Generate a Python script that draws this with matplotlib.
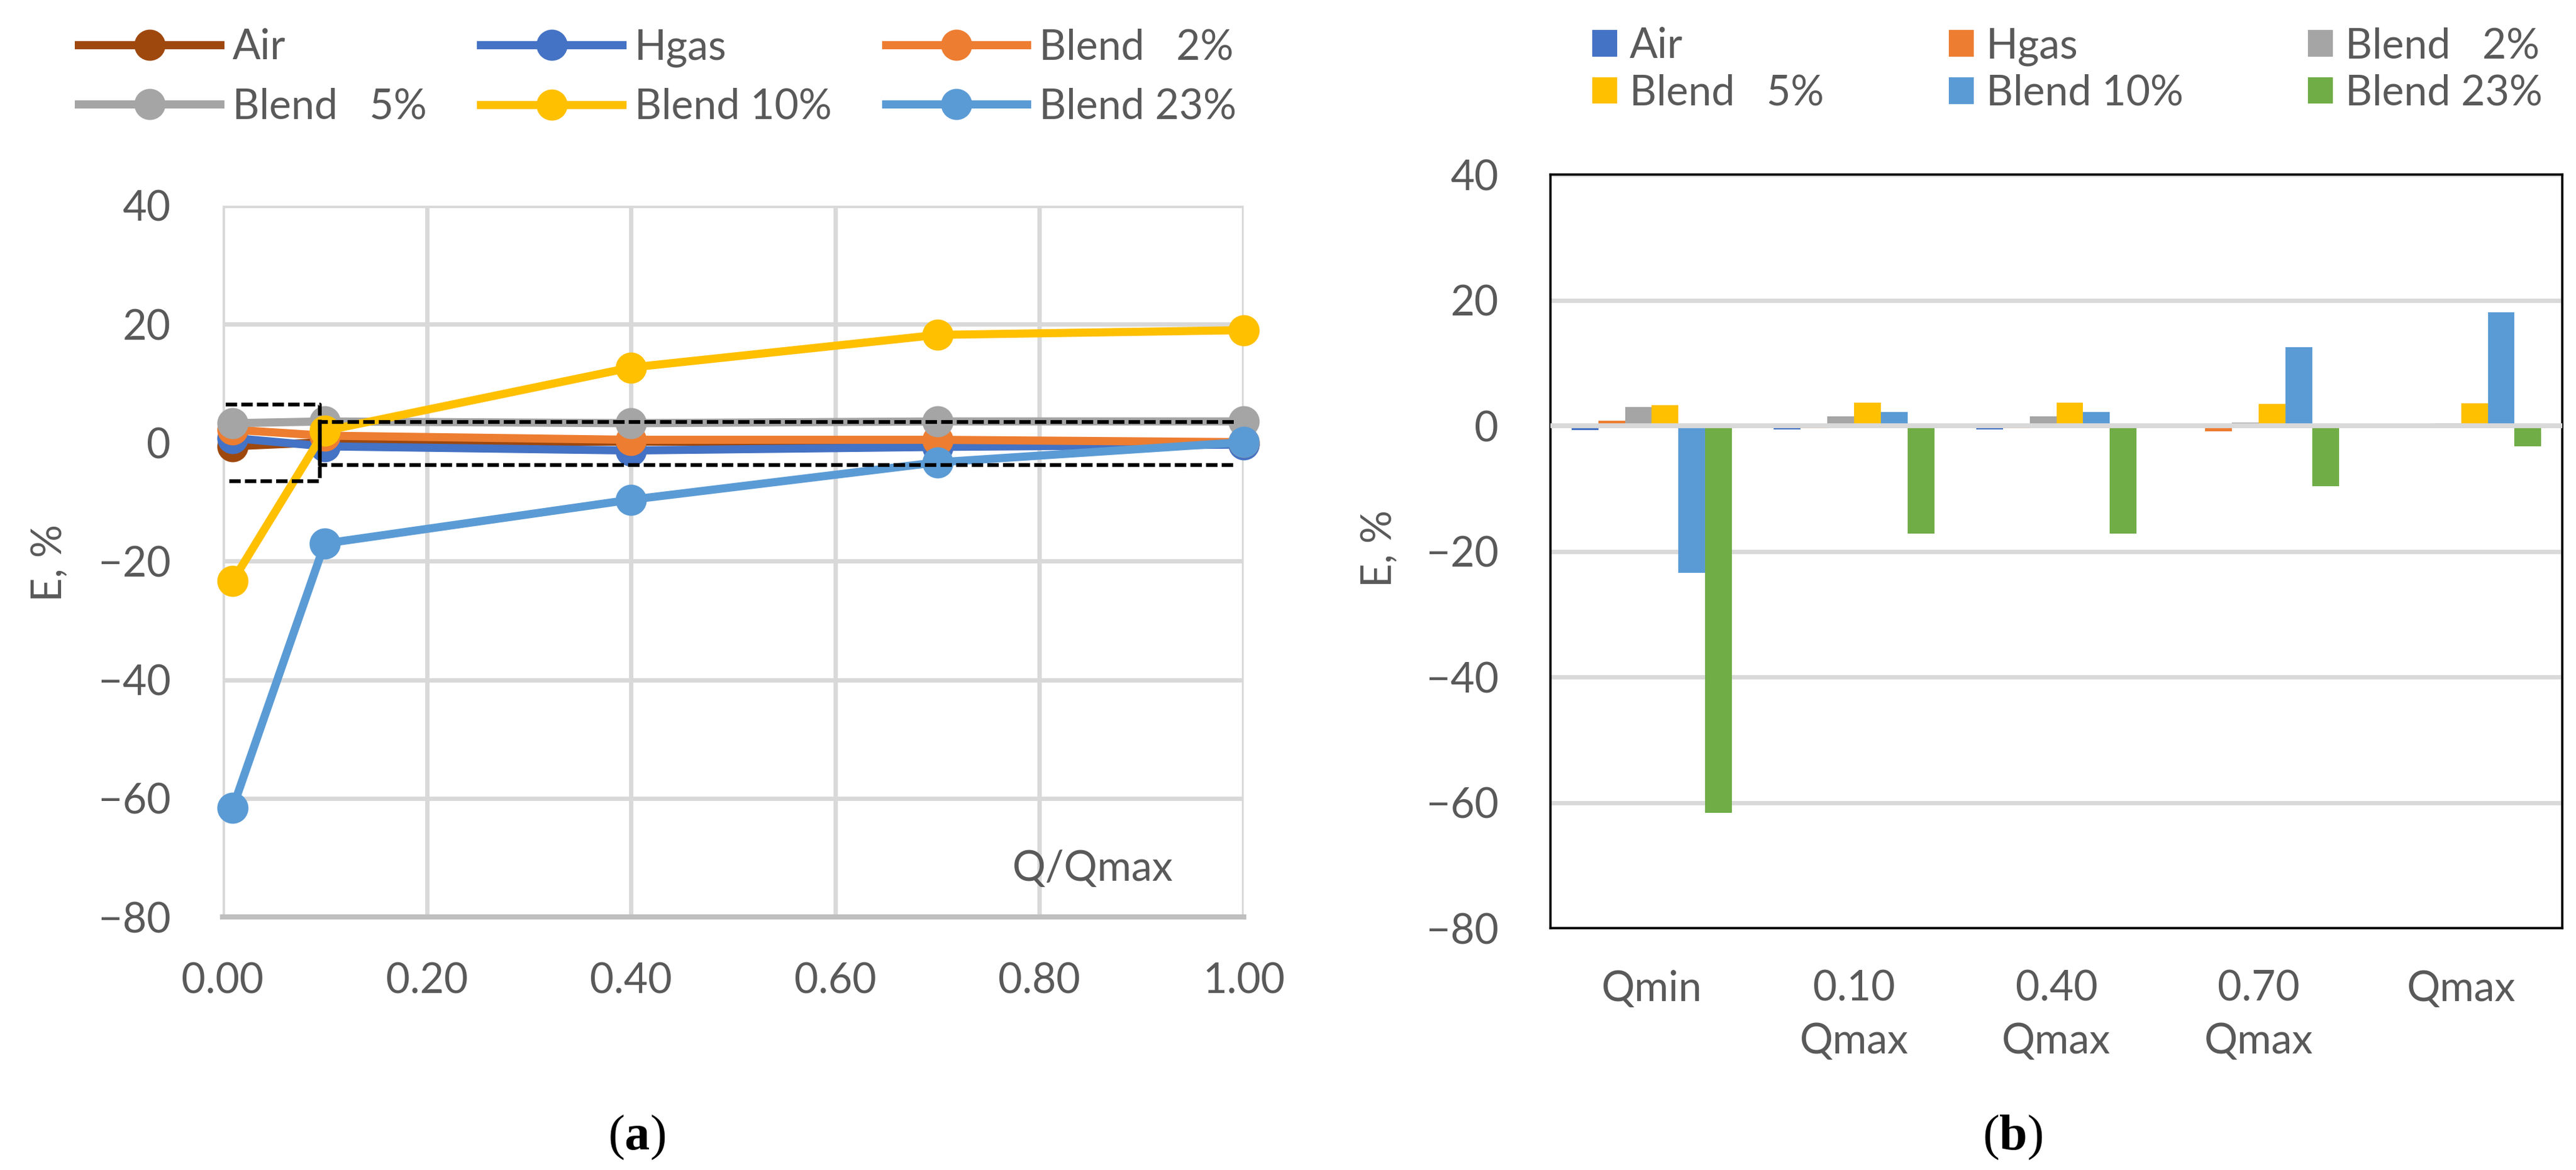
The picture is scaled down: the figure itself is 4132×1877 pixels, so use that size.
import matplotlib
matplotlib.use("Agg")
import matplotlib.pyplot as plt
import numpy as np

plt.rcParams['font.family'] = ['Lato', 'DejaVu Sans']
plt.rcParams['mathtext.fontset'] = 'custom'
plt.rcParams['mathtext.rm'] = 'Liberation Serif'
plt.rcParams['mathtext.bf'] = 'Liberation Serif:bold'

# ---- data, panel (a): error vs Q/Qmax
series_names = ["Air", "Hgas", "Blend   2%", "Blend   5%", "Blend 10%", "Blend 23%"]
x_line = [0.01, 0.1, 0.4, 0.7, 1.0]
air_line = [-0.6, 0.1, 0.2, 0.1, -0.2]
hgas_line = [0.8, -0.6, -1.3, -0.7, -0.3]
blend2_line = [2.2, 1.2, 0.5, 0.5, 0.1]
blend5_line = [3.3, 3.6, 3.3, 3.6, 3.6]
blend10_line = [-23.3, 2.0, 12.7, 18.2, 19.0]
blend23_line = [-61.6, -17.0, -9.6, -3.3, 0.1]

# dashed zoom boxes in panel (a): (x0, y0, x1, y1, open side)
zoom_boxes = [(0.003, -6.5, 0.095, 6.4, "left"), (0.095, -3.7, 0.99, 3.5, "right")]

# ---- data, panel (b): bars per flow point
categories = ["Qmin", "0.10\nQmax", "0.40\nQmax", "0.70\nQmax", "Qmax"]
air_bar = [-0.66, -0.56, -0.56, 0.0, 0.0]
hgas_bar = [0.83, -0.43, -0.43, -0.86, 0.0]
blend2_bar = [3.0, 1.5, 1.5, 0.5, 0.4]
blend5_bar = [3.3, 3.7, 3.7, 3.5, 3.6]
blend10_bar = [-23.4, 2.2, 2.2, 12.5, 18.1]
blend23_bar = [-61.6, -17.2, -17.2, -9.6, -3.3]

line_colors = ["#9E480E", "#4472C4", "#ED7D31", "#A5A5A5", "#FFC000", "#5B9BD5"]
bar_colors = ["#4472C4", "#ED7D31", "#A5A5A5", "#FFC000", "#5B9BD5", "#70AD47"]
txt = "#595959"
grid_c = "#D9D9D9"
fs = 24

fig = plt.figure(figsize=(20.66, 9.385), dpi=200)

# ================= panel (a)
ax1 = fig.add_axes([0.0864, 0.2163, 0.3964, 0.6079])
lines = [air_line, hgas_line, blend2_line, blend5_line, blend10_line, blend23_line]
handles = []
for name, ys, c in zip(series_names, lines, line_colors):
    h, = ax1.plot(x_line, ys, color=c, lw=4.7, marker="o", markersize=17,
                  label=name, clip_on=False, zorder=3)
    handles.append(h)

# boxes drawn as open dashed outlines
for (x0, y0, x1, y1, open_side) in zoom_boxes:
    if open_side == "left":
        bx, by = [x0, x1, x1, x0], [y1, y1, y0, y0]
    else:
        bx, by = [x1, x0, x0, x1], [y1, y1, y0, y0]
    ax1.plot(bx, by, color="black", lw=2.2, ls=(0, (3, 1.1)), zorder=4)

ax1.set_xlim(0, 1.0)
ax1.set_ylim(-80, 40)
ax1.set_xticks(np.arange(0, 1.01, 0.2))
ax1.set_xticklabels([f"{v:.2f}" for v in np.arange(0, 1.01, 0.2)])
ax1.set_yticks(range(-80, 41, 20))
ax1.set_yticklabels([str(v).replace("-", "\u2212") for v in range(-80, 41, 20)])
ax1.grid(True, color=grid_c, lw=2.5, zorder=0)
ax1.set_axisbelow(True)
for s in ["top", "right", "left"]:
    ax1.spines[s].set_visible(False)
ax1.spines["bottom"].set_color("#BFBFBF")
ax1.spines["bottom"].set_linewidth(3)
ax1.tick_params(length=0, labelsize=fs, labelcolor=txt)
ax1.tick_params(axis="y", pad=30)
ax1.tick_params(axis="x", pad=26)
ax1.text(0.852, 0.0675, "Q/Qmax", transform=ax1.transAxes, ha="center",
         va="center", fontsize=fs, color=txt)

order = [0, 3, 1, 4, 2, 5]
fig.legend(handles=[handles[i] for i in order], ncol=3, loc="center",
           bbox_to_anchor=(1055 / 4132, 1 - 124 / 1877), frameon=False,
           fontsize=fs, labelcolor=txt, handlelength=3.4, handletextpad=0.3,
           columnspacing=1.3, labelspacing=0.5)

fig.text(80 / 4132, 1 - 903 / 1877, "E, %", rotation=90, ha="center",
         va="center", fontsize=fs, color=txt)

# ================= panel (b)
ax2 = fig.add_axes([0.6019, 0.2067, 0.3928, 0.6441])
bars = [air_bar, hgas_bar, blend2_bar, blend5_bar, blend10_bar, blend23_bar]
xc = np.arange(len(categories))
w = 0.132
for i, (name, vals, c) in enumerate(zip(series_names, bars, bar_colors)):
    ax2.bar(xc + (i - 2.5) * w, vals, width=w, color=c, label=name, zorder=2)

ax2.axhline(0, color=grid_c, lw=2.8, zorder=3)
ax2.set_xlim(-0.5, len(categories) - 0.5)
ax2.set_ylim(-80, 40)
ax2.set_yticks(range(-80, 41, 20))
ax2.set_yticklabels([str(v).replace("-", "\u2212") for v in range(-80, 41, 20)])
ax2.set_xticks(xc)
ax2.set_xticklabels(categories, linespacing=1.45)
ax2.yaxis.grid(True, color=grid_c, lw=2.5, zorder=0)
ax2.set_axisbelow(True)
for s in ax2.spines.values():
    s.set_color("black")
    s.set_linewidth(1.3)
ax2.tick_params(length=0, labelsize=fs, labelcolor=txt)
ax2.tick_params(axis="y", pad=30)
ax2.tick_params(axis="x", pad=24)

bh, bl = ax2.get_legend_handles_labels()
fig.legend([bh[i] for i in order], [bl[i] for i in order], ncol=3, loc="center",
           bbox_to_anchor=(3316 / 4132, 1 - 112 / 1877), frameon=False,
           fontsize=fs, labelcolor=txt, handlelength=0.6, handleheight=0.6,
           handletextpad=0.3, columnspacing=3.0, labelspacing=0.2)

fig.text(2213 / 4132, 1 - 880 / 1877, "E, %", rotation=90, ha="center",
         va="center", fontsize=fs, color=txt)

# captions
fig.text(1021 / 4132, 1 - 1825 / 1877, r"($\mathbf{a}$)", ha="center", va="center",
         fontsize=29, family="Liberation Serif", color="black")
fig.text(3228 / 4132, 1 - 1825 / 1877, r"($\mathbf{b}$)", ha="center", va="center",
         fontsize=29, family="Liberation Serif", color="black")

fig.savefig("out.png", dpi=200)
